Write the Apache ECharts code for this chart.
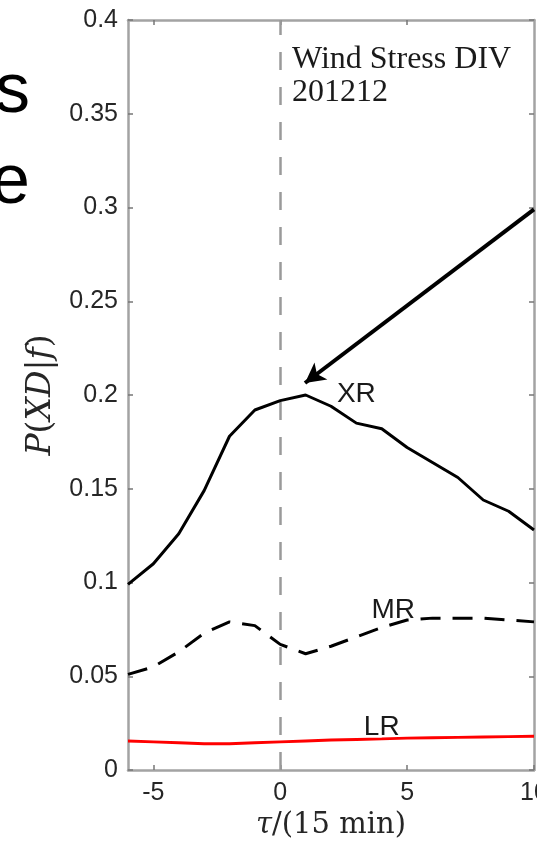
<!DOCTYPE html>
<html><head><meta charset="utf-8">
<script src="https://cdn.jsdelivr.net/npm/echarts@6/dist/echarts.min.js"></script>
<style>html,body{margin:0;padding:0;background:#fff}#c{width:537px;height:848px}</style>
</head><body><div id="c"></div>
<script>
const tau = [-6,-5,-4,-3,-2,-1,0,1,2,3,4,5,6,7,8,9,10];
const xrValues = [0.099,0.110,0.126,0.149,0.178,0.192,0.197,0.200,0.194,0.185,0.182,0.172,0.164,0.156,0.144,0.138,0.128];
const mrValues = [0.051,0.055,0.063,0.073,0.079,0.077,0.067,0.062,0.066,0.071,0.076,0.080,0.081,0.081,0.081,0.080,0.079];
const lrValues = [0.0155,0.015,0.0145,0.014,0.014,0.0145,0.015,0.0155,0.016,0.0163,0.0166,0.017,0.0172,0.0174,0.0176,0.0178,0.018];
const xTickValues = [-5,0,5,10];
const seriesNames = ['XR','MR','LR'];
const annotationTitle = ['Wind Stress DIV','201212'];
const arrowStart = [10, 0.299];
const arrowEnd = [0.975, 0.2064];
const labelPos = {XR:[3.0,0.2005], MR:[4.45,0.0853], LR:[4.0,0.0229]};

const pairs = v => tau.map((t,i)=>[t,v[i]]);
const axisGray = '#a3a3a3';
const txt = '#262626';
const serif = '"Liberation Serif","Times New Roman",serif';
const wserif = '"DejaVu Serif",serif';
const sans = '"Liberation Sans",Arial,sans-serif';

function lbl(name){
  return {
    symbol:'rect', symbolSize:1, itemStyle:{color:'rgba(0,0,0,0)'},
    label:{show:true, position:'inside', formatter:name, color:'#1a1a1a', fontSize:28, fontFamily:sans},
    data:[{coord:labelPos[name]}]
  };
}

const chart = echarts.init(document.getElementById('c'), null, {renderer:'canvas'});
chart.setOption({
  animation:false,
  backgroundColor:'#fff',
  grid:{left:128, right:3, top:20, bottom:78, outerBoundsMode:'none', containLabel:false},
  xAxis:[{
    type:'value', min:-6, max:10, position:'bottom',
    axisLine:{show:true, onZero:false, lineStyle:{color:axisGray, width:2.5}},
    axisTick:{show:true, inside:true, length:5, customValues:xTickValues, lineStyle:{color:'#777', width:1.5}},
    axisLabel:{show:true, customValues:xTickValues, color:txt, fontSize:25, fontFamily:sans, margin:11, hideOverlap:false},
    splitLine:{show:false},
    name:'{i|τ}{n|/(15 min)}', nameLocation:'middle', nameGap:40,
    nameTextStyle:{rich:{i:{fontStyle:'italic', fontFamily:wserif, fontSize:29, color:txt}, n:{fontFamily:wserif, fontSize:29, color:txt}}}
  },{
    type:'value', min:-6, max:10, position:'top',
    axisLine:{show:true, onZero:false, lineStyle:{color:axisGray, width:2.5}},
    axisTick:{show:true, inside:true, length:5, customValues:[-5,0,5], lineStyle:{color:'#777', width:1.5}},
    axisLabel:{show:false}, splitLine:{show:false}
  }],
  yAxis:[{
    type:'value', min:0, max:0.4, interval:0.05, position:'left',
    axisLine:{show:true, onZero:false, lineStyle:{color:axisGray, width:2.5}},
    axisTick:{show:true, inside:true, length:5, lineStyle:{color:'#777', width:1.5}},
    axisLabel:{show:true, color:txt, fontSize:25, fontFamily:sans, margin:10, formatter:v=>String(+v.toFixed(2))},
    splitLine:{show:false},
    name:'{i|P}{n|(}{i|XD}{n||}{i|f}{n|)}', nameLocation:'middle', nameGap:70, nameRotate:90,
    nameTextStyle:{rich:{i:{fontStyle:'italic', fontFamily:wserif, fontSize:33, color:txt}, n:{fontFamily:wserif, fontSize:33, color:txt}}}
  },{
    type:'value', min:0, max:0.4, interval:0.05, position:'right',
    axisLine:{show:true, onZero:false, lineStyle:{color:axisGray, width:2.5}},
    axisTick:{show:true, inside:true, length:5, lineStyle:{color:'#777', width:1.5}},
    axisLabel:{show:false}, splitLine:{show:false}
  }],
  graphic:[
    {type:'text', x:30, y:128, style:{text:'s', font:'70px '+sans, fill:'#000', textAlign:'right', textVerticalAlign:'bottom'}},
    {type:'text', x:30, y:219, style:{text:'e', font:'70px '+sans, fill:'#000', textAlign:'right', textVerticalAlign:'bottom'}},
    {type:'text', x:292, y:43, style:{text:annotationTitle.join('\n'), font:'32px '+serif, lineHeight:33, fill:'#1a1a1a', textAlign:'left', textVerticalAlign:'top'}}
  ],
  series:[
    {name:seriesNames[2], type:'line', data:pairs(lrValues), showSymbol:false, symbol:'none',
     lineStyle:{color:'#ff0000', width:3}, z:3,
     markLine:{silent:true, symbol:['none','none'], label:{show:false},
       lineStyle:{color:'#9a9a9a', width:2.5, type:[18,17]}, data:[{xAxis:0}]},
     markPoint:lbl('LR')},
    {name:seriesNames[1], type:'line', data:pairs(mrValues), showSymbol:false, symbol:'none',
     lineStyle:{color:'#000', width:3, type:[20,12]}, z:4, markPoint:lbl('MR')},
    {name:seriesNames[0], type:'line', data:pairs(xrValues), showSymbol:false, symbol:'none',
     lineStyle:{color:'#000', width:3}, z:5, markPoint:lbl('XR'),
     markLine:{silent:true, symbol:['none','arrow'], symbolSize:[16,20], label:{show:false},
       lineStyle:{color:'#000', width:4, type:'solid'},
       data:[[{coord:arrowStart},{coord:arrowEnd}]]}}
  ]
});
</script></body></html>
